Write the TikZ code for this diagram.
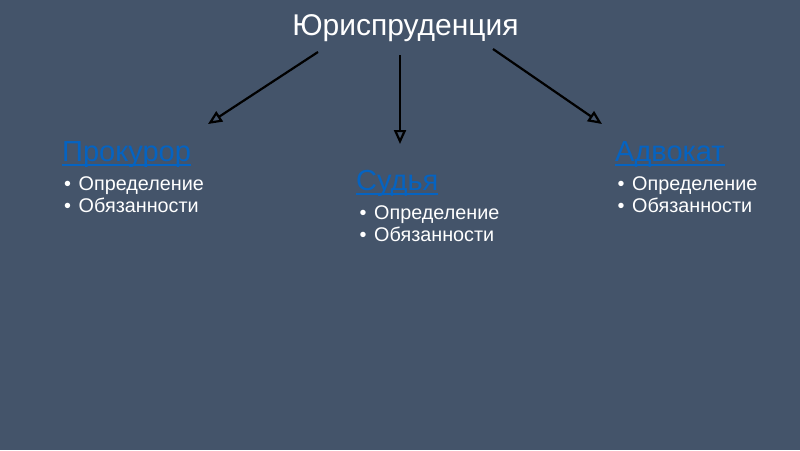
\documentclass[tikz,border=0pt]{standalone}
\usepackage{fontspec}
\setmainfont{Liberation Sans}
\usetikzlibrary{arrows.meta}
\definecolor{slide}{HTML}{44546A}
\definecolor{linkblue}{HTML}{0563C1}
\newcommand{\bul}{\makebox[14.5pt][l]{•}}
\newcommand{\uln}[1]{\setbox0\hbox{#1}\rlap{\copy0}\rule[-5pt]{\wd0}{2pt}}
\begin{document}
\begin{tikzpicture}[x=1pt,y=-1pt,
	title/.style={text=white, font=\fontsize{30}{36}\selectfont, inner sep=0pt, anchor=base},
	heading/.style={text=linkblue, font=\fontsize{29}{34}\selectfont, inner sep=0pt, anchor=base west},
	item/.style={text=white, font=\fontsize{19.8}{24}\selectfont, inner sep=0pt, anchor=base west},
	link/.style={draw=black, line width=2.2pt, -{Triangle[open,length=14pt,width=12pt]}}]
	\fill[slide] (0,0) rectangle (800,450);
	\useasboundingbox (0,0) rectangle (800,450);
	\node (jur)   at (405.5, 35)	[title]		{Юриспруденция};
	\node (prok)  at ( 62, 161)	[heading]	{\uln{Прокурор}};
	\node (prok1) at ( 64, 190)	[item]		{\bul Определение};
	\node (prok2) at ( 64, 212)	[item]		{\bul Обязанности};
	\node (sud)   at (356, 190)	[heading]	{\uln{Судья}};
	\node (sud1)  at (359.5, 219.3)	[item]		{\bul Определение};
	\node (sud2)  at (359.5, 241.5)	[item]		{\bul Обязанности};
	\node (adv)   at (615, 161)	[heading]	{\uln{Адвокат}};
	\node (adv1)  at (617.5, 190)	[item]		{\bul Определение};
	\node (adv2)  at (617.5, 212)	[item]		{\bul Обязанности};
	\coordinate (s1) at (318, 52);
	\coordinate (s2) at (400, 55);
	\coordinate (s3) at (493, 49);
	\coordinate (e1) at (208, 124);
	\coordinate (e2) at (400, 144);
	\coordinate (e3) at (602, 124);
	\draw[link] (s1) -- (e1);
	\draw[link] (s2) -- (e2);
	\draw[link] (s3) -- (e3);
\end{tikzpicture}
\end{document}
